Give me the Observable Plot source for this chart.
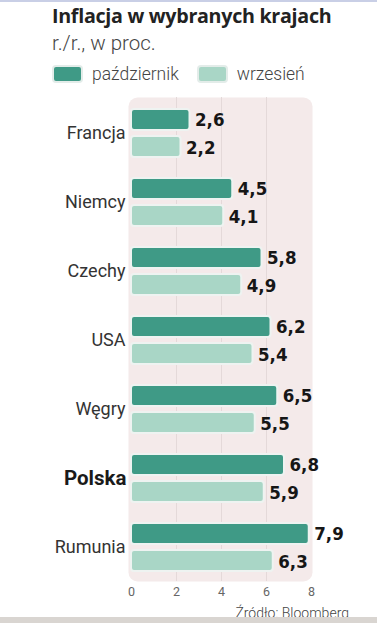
<!DOCTYPE html>
<html><head><meta charset="utf-8">
<script src="https://cdn.jsdelivr.net/npm/d3@7"></script>
<script src="https://cdn.jsdelivr.net/npm/@observablehq/plot@0.6"></script>
<style>
html,body{margin:0;padding:0;background:#fff;}
#wrap{position:relative;width:377px;height:623px;overflow:hidden;border-top:2px solid #c9cfe6;box-sizing:border-box;font-family:Roboto,"Open Sans",sans-serif;}
#title{position:absolute;left:52px;top:0px;font-family:"Open Sans",sans-serif;font-size:19.7px;font-weight:700;color:#222;letter-spacing:-0.3px;}
#sub{position:absolute;left:52px;top:29px;font-size:20.5px;font-weight:300;color:#444;}
#legend{position:absolute;left:52px;top:62px;display:flex;align-items:center;font-size:17.5px;font-weight:300;color:#444;}
.sw{display:inline-block;width:27px;height:14px;border-radius:4px;border:2px solid #e3ece9;margin-right:9px;}
#chart{position:absolute;left:0;top:88px;}
#foot{position:absolute;left:0;bottom:0;width:377px;height:6px;background:#d9d5d1;}
#src{position:absolute;right:28px;top:603px;font-size:14px;font-weight:300;color:#444;}
</style></head>
<body><div id="wrap">
<div id="title">Inflacja w wybranych krajach</div>
<div id="sub">r./r., w proc.</div>
<div id="legend"></div>
<div id="chart"></div>
<div id="src">Źródło: Bloomberg</div>
<div id="foot"></div>
</div>
<script>
const countries = ["Francja","Niemcy","Czechy","USA","Węgry","Polska","Rumunia"];
const october = [2.6,4.5,5.8,6.2,6.5,6.8,7.9];
const september = [2.2,4.1,4.9,5.4,5.5,5.9,6.3];
const seriesNames = ["październik","wrzesień"];
const seriesColors = ["#3f9a86","#a9d6c6"];
const xTicks = [0,2,4,6,8];
const highlight = "Polska";

const leg = document.getElementById("legend");
seriesNames.forEach((n,i)=>{
  const s=document.createElement("span");s.className="sw";s.style.background=seriesColors[i];
  const t=document.createElement("span");t.textContent=n;t.style.marginRight="18px";
  leg.appendChild(s);leg.appendChild(t);
});

const octData = countries.map((c,i)=>({country:c,value:october[i]}));
const sepData = countries.map((c,i)=>({country:c,value:september[i]}));
const fmt = v => v.toFixed(1).replace(".",",");
const valFont = "'DejaVu Sans Condensed', 'Liberation Sans Narrow', sans-serif";

const chart = Plot.plot({
  width:377, height:535,
  marginLeft:131, marginRight:66, marginTop:7, marginBottom:44,
  style:{fontFamily:"Roboto, sans-serif", background:"transparent"},
  x:{domain:[0,8], ticks:xTicks, tickSize:0, tickPadding:6, label:null},
  y:{domain:countries, padding:0, label:null, axis:null},
  marks:[
    Plot.frame({fill:"#f4eaea", stroke:null, rx:9, insetLeft:-3, insetRight:-1}),
    Plot.gridX(xTicks.slice(1,4), {stroke:"#e4d9d9", strokeOpacity:1}),
    Plot.barX(octData,{x:"value", y:"country", fill:seriesColors[0], stroke:"#eef3f1", strokeWidth:2, rx:3, insetTop:11, insetBottom:37}),
    Plot.barX(sepData,{x:"value", y:"country", fill:seriesColors[1], stroke:"#eef3f1", strokeWidth:2, rx:3, insetTop:38, insetBottom:10}),
    Plot.text(octData,{x:"value", y:"country", text:d=>fmt(d.value), dx:5, dy:-13, textAnchor:"start", fontSize:18.5, fontWeight:700, fill:"#161616", fontFamily:valFont}),
    Plot.text(sepData,{x:"value", y:"country", text:d=>fmt(d.value), dx:5, dy:15, textAnchor:"start", fontSize:18.5, fontWeight:700, fill:"#161616", fontFamily:valFont}),
    Plot.axisY({ticks:countries.filter(c=>c!==highlight), tickSize:0, tickPadding:6, fontSize:18, fill:"#333", label:null}),
    Plot.axisY({ticks:[highlight], tickSize:0, tickPadding:5, fontSize:20.5, fontWeight:700, fill:"#1a1a1a", label:null}),
    Plot.axisX({ticks:xTicks, tickSize:0, tickPadding:6, fontSize:12.5, fill:"#666", label:null})
  ]
});
document.getElementById("chart").appendChild(chart);
</script>
</body></html>
